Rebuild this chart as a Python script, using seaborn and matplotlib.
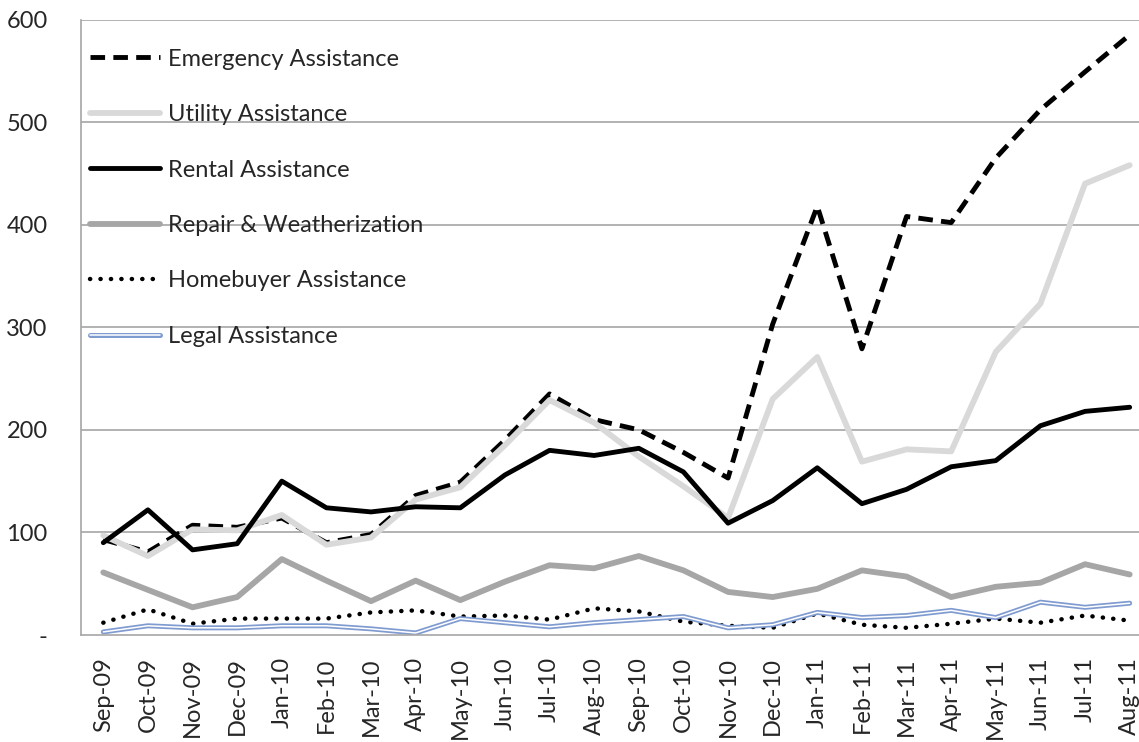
import pandas as pd
import numpy as np
import matplotlib
matplotlib.use("Agg")
import matplotlib.pyplot as plt
import matplotlib.patheffects as pe
import seaborn as sns

# === Data ===
months = ['Sep-09', 'Oct-09', 'Nov-09', 'Dec-09', 'Jan-10', 'Feb-10', 'Mar-10', 'Apr-10',
          'May-10', 'Jun-10', 'Jul-10', 'Aug-10', 'Sep-10', 'Oct-10', 'Nov-10', 'Dec-10',
          'Jan-11', 'Feb-11', 'Mar-11', 'Apr-11', 'May-11', 'Jun-11', 'Jul-11', 'Aug-11']

emergency = [93, 81, 107, 105, 114, 90, 98, 136, 149, 190, 235, 210,
             200, 178, 153, 303, 418, 279, 408, 402, 465, 512, 549, 585]
utility = [97, 77, 103, 102, 117, 88, 95, 132, 144, 185, 229, 207,
           174, 145, 114, 230, 271, 169, 181, 179, 276, 323, 440, 458]
rental = [90, 122, 83, 89, 150, 124, 120, 125, 124, 156, 180, 175,
          182, 159, 109, 131, 163, 128, 142, 164, 170, 204, 218, 222]
repair = [61, 44, 27, 37, 74, 53, 33, 53, 34, 52, 68, 65,
          77, 63, 42, 37, 45, 63, 57, 37, 47, 51, 69, 59]
homebuyer = [12, 25, 11, 16, 16, 16, 22, 24, 18, 19, 15, 26,
             23, 13, 9, 7, 21, 10, 7, 11, 16, 12, 19, 14]
legal = [3, 9, 7, 7, 9, 9, 6, 2, 16, 12, 8, 12,
         15, 18, 7, 10, 22, 17, 19, 24, 17, 32, 27, 31]

yticks = [0, 100, 200, 300, 400, 500, 600]
ylabels = ['-', '100', '200', '300', '400', '500', '600']

sns.set_style("white")
plt.rcParams['font.family'] = ['Lato', 'DejaVu Sans']

fig = plt.figure(figsize=(11.39, 7.42), dpi=100)
ax = fig.add_axes([0.0711, 0.1442, 0.9403, 0.8295])

x = np.arange(len(months))
grid_col = '#a6a6a6'
for y in yticks[1:]:
    ax.axhline(y, color=grid_col, lw=1.2, zorder=0)

sns.lineplot(x=x, y=emergency, ax=ax, color='black', lw=3.5,
             linestyle=(0, (3.0, 1.7)), label='Emergency Assistance')
sns.lineplot(x=x, y=utility, ax=ax, color='#d9d9d9', lw=4.2, label='Utility Assistance')
sns.lineplot(x=x, y=rental, ax=ax, color='black', lw=3.5, label='Rental Assistance')
sns.lineplot(x=x, y=repair, ax=ax, color='#a6a6a6', lw=4.2, label='Repair & Weatherization')
sns.lineplot(x=x, y=homebuyer, ax=ax, color='black', lw=3.2,
             linestyle=(0, (0.05, 2.3)), label='Homebuyer Assistance')
sns.lineplot(x=x, y=legal, ax=ax, color='white', lw=1.1, label='Legal Assistance')

for ln in ax.get_lines():
    if ln.get_label() == 'Homebuyer Assistance':
        ln.set_dash_capstyle('round')
    if ln.get_label() == 'Legal Assistance':
        ln.set_path_effects([pe.Stroke(linewidth=3.6, foreground='#7f9bd0'), pe.Normal()])

ax.set_xlim(-0.5, 23.5)
ax.set_ylim(0, 600)
ax.set_xticks(np.arange(-0.5, 24, 1))
ax.set_xticklabels([])
ax.set_xticks(x, minor=True)
ax.set_xticklabels(months, minor=True, rotation=90, fontsize=17)
ax.tick_params(axis='x', which='major', direction='out', length=8, width=1.2, color=grid_col)
ax.tick_params(axis='x', which='minor', length=0, pad=16)
ax.set_yticks(yticks)
ax.set_yticklabels(ylabels, fontsize=17)
ax.tick_params(axis='y', direction='out', length=8, width=1.2, color=grid_col, pad=16)

for s in ['top', 'right']:
    ax.spines[s].set_visible(False)
for s in ['left', 'bottom']:
    ax.spines[s].set_color(grid_col)
    ax.spines[s].set_linewidth(1.2)

leg = ax.legend(loc='upper left', bbox_to_anchor=(0.079, 0.9345), bbox_transform=fig.transFigure,
                frameon=False, fontsize=17, handlelength=2.97, handletextpad=0.34,
                labelspacing=1.46, borderaxespad=0, borderpad=0)

fig.savefig('out.png', dpi=100)
